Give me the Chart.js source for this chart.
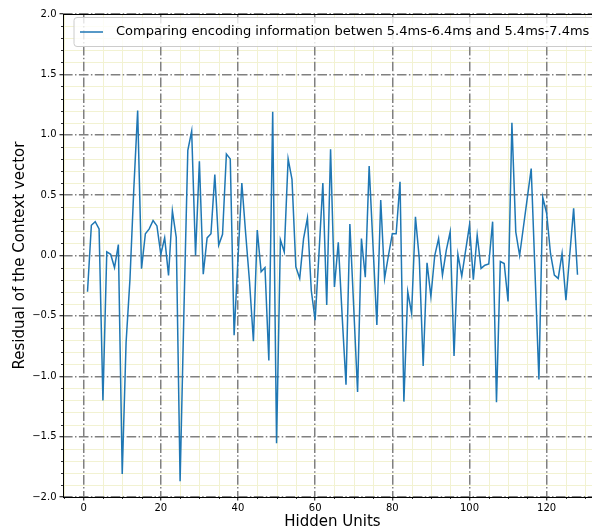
<!DOCTYPE html>
<html>
<head>
<meta charset="utf-8">
<script src="https://cdn.jsdelivr.net/npm/chart.js@4.4.1/dist/chart.umd.min.js"></script>
<style>
  html, body { margin: 0; padding: 0; background: #ffffff; overflow: hidden; }
  canvas { display: block; }
</style>
</head>
<body>
<canvas id="c" width="612" height="532"></canvas>
<script>
const hiddenUnits = [1,2,3,4,5,6,7,8,9,10,11,12,13,14,15,16,17,18,19,20,21,22,23,24,25,26,27,28,29,30,31,32,
  33,34,35,36,37,38,39,40,41,42,43,44,45,46,47,48,49,50,51,52,53,54,55,56,57,58,59,60,61,62,63,64,
  65,66,67,68,69,70,71,72,73,74,75,76,77,78,79,80,81,82,83,84,85,86,87,88,89,90,91,92,93,94,95,96,
  97,98,99,100,101,102,103,104,105,106,107,108,109,110,111,112,113,114,115,116,117,118,119,120,121,122,123,124,125,126,127,128];
const residuals = [
  -0.30, 0.25, 0.28, 0.22, -1.20, 0.03, 0.01, -0.10, 0.09, -1.81,
  -0.72, -0.20, 0.55, 1.20, -0.11, 0.18, 0.22, 0.29, 0.245, 0.01,
  0.146, -0.165, 0.37, 0.15, -1.87, -0.45, 0.87, 1.03, 0.00, 0.78,
  -0.155, 0.146, 0.18, 0.67, 0.085, 0.176, 0.84, 0.80, -0.66, -0.03,
  0.60, 0.18, -0.22, -0.71, 0.21, -0.135, -0.10, -0.87, 1.19, -1.555,
  0.13, 0.03, 0.80, 0.63, -0.094, -0.19, 0.14, 0.31, -0.29, -0.535,
  0.02, 0.60, -0.41, 0.88, -0.26, 0.11, -0.50, -1.07, 0.26, -0.43,
  -1.13, 0.14, -0.18, 0.74, 0.08, -0.576, 0.46, -0.19, 0.00, 0.18,
  0.18, 0.61, -1.21, -0.30, -0.48, 0.32, -0.03, -0.915, -0.06, -0.34,
  0.00, 0.14, -0.163, 0.044, 0.196, -0.833, 0.01, -0.17, 0.04, 0.25,
  -0.20, 0.168, -0.107, -0.08, -0.07, 0.28, -1.216, -0.05, -0.066, -0.38,
  1.10, 0.196, 0.00, 0.24, 0.48, 0.72, -0.15, -1.026, 0.48, 0.35,
  0.017, -0.163, -0.19, 0.017, -0.37, 0.01, 0.39, -0.16
];
const xTickValues = [0, 20, 40, 60, 80, 100, 120];
const xMinorValues = [-5, 5, 10, 15, 25, 30, 35, 45, 50, 55, 65, 70, 75, 85, 90, 95, 105, 110, 115, 125, 130];
const yTickValues = [-2.0, -1.5, -1.0, -0.5, 0.0, 0.5, 1.0, 1.5, 2.0];
const yMinorValues = [-1.9,-1.8,-1.7,-1.6,-1.4,-1.3,-1.2,-1.1,-0.9,-0.8,-0.7,-0.6,-0.4,-0.3,-0.2,-0.1,
  0.1,0.2,0.3,0.4,0.6,0.7,0.8,0.9,1.1,1.2,1.3,1.4,1.6,1.7,1.8,1.9];
const legendLabel = 'Comparing encoding information betwen 5.4ms-6.4ms and 5.4ms-7.4ms';
const xTitle = 'Hidden Units';
const yTitle = 'Residual of the Context vector';

const FONT = 'DejaVu Sans';
const points = hiddenUnits.map((u, i) => ({ x: u, y: residuals[i] }));

const decorPlugin = {
  id: 'decor',
  beforeDraw(chart) {
    const ctx = chart.ctx, a = chart.chartArea;
    const xs = chart.scales.x, ys = chart.scales.y;
    ctx.save();
    ctx.fillStyle = '#ffffff';
    ctx.fillRect(0, 0, chart.width, chart.height);
    ctx.strokeStyle = '#f2f2d2';
    ctx.lineWidth = 1;
    xMinorValues.forEach(v => {
      const px = Math.round(xs.getPixelForValue(v)) + 0.5;
      ctx.beginPath(); ctx.moveTo(px, a.top); ctx.lineTo(px, a.bottom); ctx.stroke();
    });
    yMinorValues.forEach(v => {
      const py = Math.round(ys.getPixelForValue(v)) + 0.5;
      ctx.beginPath(); ctx.moveTo(a.left, py); ctx.lineTo(a.right, py); ctx.stroke();
    });
    ctx.restore();
  },
  afterDraw(chart) {
    const ctx = chart.ctx, a = chart.chartArea;
    const xs = chart.scales.x, ys = chart.scales.y;
    ctx.save();
    ctx.strokeStyle = '#000000';
    ctx.lineWidth = 0.8;
    xMinorValues.forEach(v => {
      const px = Math.round(xs.getPixelForValue(v)) + 0.5;
      ctx.beginPath(); ctx.moveTo(px, a.bottom); ctx.lineTo(px, a.bottom + 2); ctx.stroke();
    });
    yMinorValues.forEach(v => {
      const py = Math.round(ys.getPixelForValue(v)) + 0.5;
      ctx.beginPath(); ctx.moveTo(a.left, py); ctx.lineTo(a.left - 2, py); ctx.stroke();
    });
    ctx.lineWidth = 1;
    ctx.strokeStyle = '#000000';
    ctx.strokeRect(Math.round(a.left) + 0.5, Math.round(a.top) + 0.5,
      Math.round(a.right - a.left), Math.round(a.bottom - a.top));
    ctx.font = '13px "' + FONT + '"';
    const tw = ctx.measureText(legendLabel).width;
    const bx = a.left + 11, by = a.top + 3.5, bh = 29;
    const bw = 42 + tw + 8;
    const r = 3;
    ctx.beginPath();
    ctx.moveTo(bx + r, by);
    ctx.lineTo(bx + bw - r, by); ctx.quadraticCurveTo(bx + bw, by, bx + bw, by + r);
    ctx.lineTo(bx + bw, by + bh - r); ctx.quadraticCurveTo(bx + bw, by + bh, bx + bw - r, by + bh);
    ctx.lineTo(bx + r, by + bh); ctx.quadraticCurveTo(bx, by + bh, bx, by + bh - r);
    ctx.lineTo(bx, by + r); ctx.quadraticCurveTo(bx, by, bx + r, by);
    ctx.closePath();
    ctx.fillStyle = 'rgba(255,255,255,0.8)';
    ctx.fill();
    ctx.strokeStyle = '#cccccc';
    ctx.lineWidth = 1;
    ctx.stroke();
    const cy = by + bh / 2;
    ctx.strokeStyle = '#1f77b4';
    ctx.lineWidth = 1.5;
    ctx.beginPath(); ctx.moveTo(bx + 6, cy); ctx.lineTo(bx + 29, cy); ctx.stroke();
    ctx.fillStyle = '#000000';
    ctx.textBaseline = 'middle';
    ctx.textAlign = 'left';
    ctx.fillText(legendLabel, bx + 42, cy);
    ctx.restore();
  }
};

new Chart(document.getElementById('c'), {
  type: 'line',
  data: {
    datasets: [{
      label: legendLabel,
      data: points,
      borderColor: '#1f77b4',
      borderWidth: 1.5,
      pointRadius: 0,
      fill: false,
      tension: 0
    }]
  },
  options: {
    responsive: false,
    animation: false,
    devicePixelRatio: 1,
    layout: { padding: { left: 11, top: 14, right: 10, bottom: 1 } },
    plugins: { legend: { display: false }, tooltip: { enabled: false } },
    scales: {
      x: {
        type: 'linear',
        min: -5.35,
        max: 134.35,
        afterBuildTicks: s => { s.ticks = xTickValues.map(v => ({ value: v })); },
        afterFit: s => { s.height = 34; },
        ticks: {
          autoSkip: false, maxRotation: 0, padding: 2,
          color: '#000000', font: { family: FONT, size: 10 },
          callback: v => String(v)
        },
        grid: {
          color: '#808080', lineWidth: 1.5, drawTicks: true, tickLength: 3.5,
          tickColor: '#000000', tickWidth: 1, tickBorderDash: []
        },
        border: { display: false, dash: [9.6, 2.4, 1.5, 2.4] },
        title: {
          display: true, text: xTitle, color: '#000000',
          font: { family: FONT, size: 15 }, padding: 0
        }
      },
      y: {
        type: 'linear',
        min: -2,
        max: 2,
        afterBuildTicks: s => { s.ticks = yTickValues.map(v => ({ value: v })); },
        afterFit: s => { s.width = 52; },
        ticks: {
          autoSkip: false, padding: 3,
          color: '#000000', font: { family: FONT, size: 10 },
          callback: v => v.toFixed(1).replace('-', '\u2212')
        },
        grid: {
          color: '#808080', lineWidth: 1.5, drawTicks: true, tickLength: 3.5,
          tickColor: '#000000', tickWidth: 1, tickBorderDash: []
        },
        border: { display: false, dash: [9.6, 2.4, 1.5, 2.4] },
        title: {
          display: true, text: yTitle, color: '#000000',
          font: { family: FONT, size: 15 }, padding: 0
        }
      }
    }
  },
  plugins: [decorPlugin]
});
</script>
</body>
</html>
